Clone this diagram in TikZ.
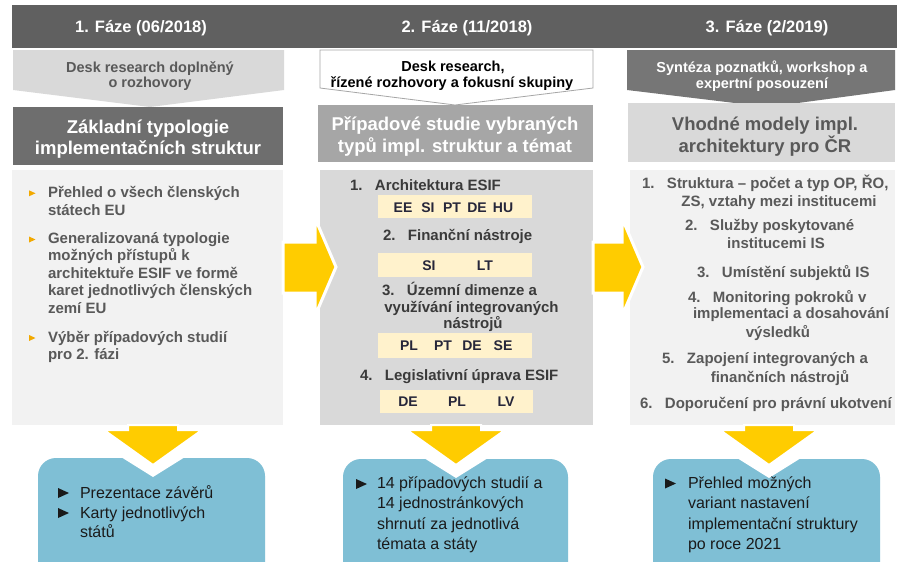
\documentclass[tikz,border=0pt]{standalone}
\usepackage{fontspec}
\setmainfont{Liberation Sans}
\definecolor{hdrc}{HTML}{606060}
\definecolor{lgray}{HTML}{D9D9D9}
\definecolor{vlg}{HTML}{F2F2F2}
\definecolor{mdark}{HTML}{767676}
\definecolor{dk}{HTML}{6E6E6E}
\definecolor{md}{HTML}{A6A6A6}
\definecolor{txtg}{HTML}{595959}
\definecolor{txtd}{HTML}{3A3A3A}
\definecolor{yel}{HTML}{FFCC00}
\definecolor{ylight}{HTML}{FFF2CC}
\definecolor{codec}{HTML}{26263A}
\definecolor{blue}{HTML}{7FBFD5}
\definecolor{bull}{HTML}{F2A900}
\definecolor{blk}{HTML}{1A1A1A}
\newcommand{\nbox}[1]{\makebox[25pt][l]{#1}}
\tikzset{
  hdrtxt/.style={anchor=base, text=white, font=\bfseries\fontsize{16.5}{19}\selectfont},
  rtwo/.style={anchor=base, font=\bfseries\fontsize{14.5}{16}\selectfont},
  rthree/.style={anchor=base, font=\bfseries\fontsize{18.5}{22}\selectfont},
  bodyl/.style={anchor=base west, font=\bfseries\fontsize{15}{17}\selectfont},
  bodyc/.style={anchor=base, font=\bfseries\fontsize{15}{17}\selectfont},
  ycode/.style={anchor=base, text=codec, font=\bfseries\fontsize{14}{16}\selectfont},
  bluet/.style={anchor=base west, text=blk, font=\fontsize{16}{20}\selectfont},
  yarrow/.style={fill=yel, draw=white, line width=3pt, line join=miter},
  ybox/.style={fill=ylight},
}
\begin{document}
\begin{tikzpicture}[x=1pt,y=-1pt, every node/.style={inner sep=0pt, outer sep=0pt}]
\clip (0,0) rectangle (897,562);
\fill[white] (0,0) rectangle (897,562);

% header bar
\fill[hdrc] (12,5) rectangle (897,48);
\node[hdrtxt] (h1) at (141,32.5) {1. Fáze (06/2018)};
\node[hdrtxt] (h2) at (467,32.5) {2. Fáze (11/2018)};
\node[hdrtxt] (h3) at (767,32.5) {3. Fáze (2/2019)};

% row 2 chevrons
\fill[lgray] (13,50) -- (284,50) -- (284,90) -- (150,107) -- (13,90) -- cycle;
\draw[draw=md, fill=white, line width=0.8pt] (320,50) -- (593,50) -- (593,88) -- (455,105) -- (320,88) -- cycle;
\fill[mdark] (627,50) -- (895,50) -- (895,90) -- (768,107) -- (627,90) -- cycle;

\node[rtwo, text=txtg] (a1) at (150,72) {Desk research doplněný};
\node[rtwo, text=txtg] (a2) at (150,87.5) {o rozhovory};
\node[rtwo, text=black] (b1) at (453,71.5) {Desk research,};
\node[rtwo, text=black] (b2) at (452,87) {řízené rozhovory a fokusní skupiny};
\node[rtwo, text=white] (c1) at (762,72) {Syntéza poznatků, workshop a};
\node[rtwo, text=white] (c2) at (762,88) {expertní posouzení};

% row 3 titles
\fill[dk] (13,107) rectangle (283,165);
\fill[md] (318,105) rectangle (593,162);
\fill[lgray] (628,103) rectangle (895,162);
\node[rthree, text=white] (t11) at (148,133) {Základní typologie};
\node[rthree, text=white] (t12) at (148,154.5) {implementačních struktur};
\node[rthree, text=white] (t21) at (455,130) {Případové studie vybraných};
\node[rthree, text=white] (t22) at (455,152.5) {typů impl. struktur a témat};
\node[rthree, text=txtg] (t31) at (765,130) {Vhodné modely impl.};
\node[rthree, text=txtg] (t32) at (765,152.5) {architektury pro ČR};

% row 4 content boxes
\fill[vlg] (12,170) rectangle (283,425);
\fill[lgray] (320,170) rectangle (593,425);
\fill[vlg] (630,170) rectangle (895,425);

% column 1 bullets
\foreach \y in {193.3,239.5,338} \fill[bull] (29,\y-3) -- (35.5,\y) -- (29,\y+3) -- cycle;
\begin{scope}[every node/.append style={text=txtg}]
\node[bodyl] (p1) at (48,197) {Přehled o všech členských};
\node[bodyl] (p2) at (48,215) {státech EU};
\node[bodyl] (p3) at (48,243) {Generalizovaná typologie};
\node[bodyl] (p4) at (48,260.5) {možných přístupů k};
\node[bodyl] (p5) at (48,278) {architektuře ESIF ve formě};
\node[bodyl] (p6) at (48,295.5) {karet jednotlivých členských};
\node[bodyl] (p7) at (48,313) {zemí EU};
\node[bodyl] (p8) at (48,342) {Výběr případových studií};
\node[bodyl] (p9) at (48,359) {pro 2. fázi};
\end{scope}

% column 2 list
\fill[ybox] (378,195) rectangle (532,218);
\fill[ybox] (378,253) rectangle (532,277);
\fill[ybox] (378,333) rectangle (532,358);
\fill[ybox] (380,390) rectangle (533,413);
\begin{scope}[every node/.append style={text=txtd}]
\node[bodyl] (q1) at (350,190) {\nbox{1.}Architektura ESIF};
\node[bodyl] (q2) at (383,240) {\nbox{2.}Finanční nástroje};
\node[bodyl] (q3) at (382,295) {\nbox{3.}Územní dimenze a};
\node[bodyc] (q3b) at (471.5,312) {využívání integrovaných};
\node[bodyc] (q3c) at (473,328.5) {nástrojů};
\node[bodyl] (q4) at (360,380) {\nbox{4.}Legislativní úprava ESIF};
\end{scope}
\foreach \t/\x [count=\i] in {EE/403,SI/428,PT/452,DE/477,HU/503}
  \node[ycode] (ya\i) at (\x,212) {\t};
\foreach \t/\x [count=\i] in {SI/429,LT/485}
  \node[ycode] (yb\i) at (\x,270) {\t};
\foreach \t/\x [count=\i] in {PL/409,PT/443,DE/472,SE/503}
  \node[ycode] (yc\i) at (\x,350.5) {\t};
\foreach \t/\x [count=\i] in {DE/408,PL/457,LV/506}
  \node[ycode] (yd\i) at (\x,406.5) {\t};

% column 3 list
\begin{scope}[every node/.append style={text=txtg}]
\node[bodyl] (s1) at (642,188) {\nbox{1.}Struktura – počet a typ OP, ŘO,};
\node[bodyc] (s1b) at (779,206) {ZS, vztahy mezi institucemi};
\node[bodyl] (s2) at (685,230) {\nbox{2.}Služby poskytované};
\node[bodyc] (s2b) at (776,248) {institucemi IS};
\node[bodyl] (s3) at (697,277) {\nbox{3.}Umístění subjektů IS};
\node[bodyl] (s4) at (688,302) {\nbox{4.}Monitoring pokroků v};
\node[bodyc] (s4b) at (791,318.5) {implementaci a dosahování};
\node[bodyc] (s4c) at (778,337) {výsledků};
\node[bodyl] (s5) at (662,363) {\nbox{5.}Zapojení integrovaných a};
\node[bodyc] (s5b) at (780,382) {finančních nástrojů};
\node[bodyl] (s6) at (640,408) {\nbox{6.}Doporučení pro právní ukotvení};
\end{scope}

% right arrows
\path[yarrow] (283,242) -- (315,242) -- (315,218) -- (336,267) -- (315,316) -- (315,293) -- (283,293) -- cycle;
\path[yarrow] (593,242) -- (622,242) -- (622,218) -- (643,267) -- (622,316) -- (622,293) -- (593,293) -- cycle;

% blue result boxes with notches
\fill[blue, rounded corners=18pt] (38,458) rectangle (265,600);
\fill[blue, rounded corners=18pt] (343,459) rectangle (568,600);
\fill[blue, rounded corners=18pt] (653,459) rectangle (880,600);
\foreach \cx/\ty in {153/457, 456/458, 769/458}
  \fill[white] (\cx-32,\ty) -- (\cx,\ty+20) -- (\cx+32,\ty) -- cycle;

% down arrows
\foreach \cx in {153,456,769}
  \path[yarrow, line width=2pt] (\cx-25,425) -- (\cx+25,425) -- (\cx+25,430) -- (\cx+49,430) -- (\cx,465) -- (\cx-49,430) -- (\cx-25,430) -- cycle;

% blue box texts
\foreach \x/\y in {58/493, 58/513, 356/484, 665/483.5}
  \fill[blk] (\x,\y-5) -- (\x+11,\y) -- (\x,\y+5) -- cycle;
\node[bluet] (u1) at (80,498) {Prezentace závěrů};
\node[bluet] (u2) at (80,518) {Karty jednotlivých};
\node[bluet] (u3) at (80,537.5) {států};
\node[bluet] (v1) at (377,488) {14 případových studií a};
\node[bluet] (v2) at (377,508.5) {14 jednostránkových};
\node[bluet] (v3) at (377,529) {shrnutí za jednotlivá};
\node[bluet] (v4) at (377,549.5) {témata a státy};
\node[bluet] (w1) at (688,488) {Přehled možných};
\node[bluet] (w2) at (688,508.5) {variant nastavení};
\node[bluet] (w3) at (688,529) {implementační struktury};
\node[bluet] (w4) at (688,549.5) {po roce 2021};
\end{tikzpicture}
\end{document}
